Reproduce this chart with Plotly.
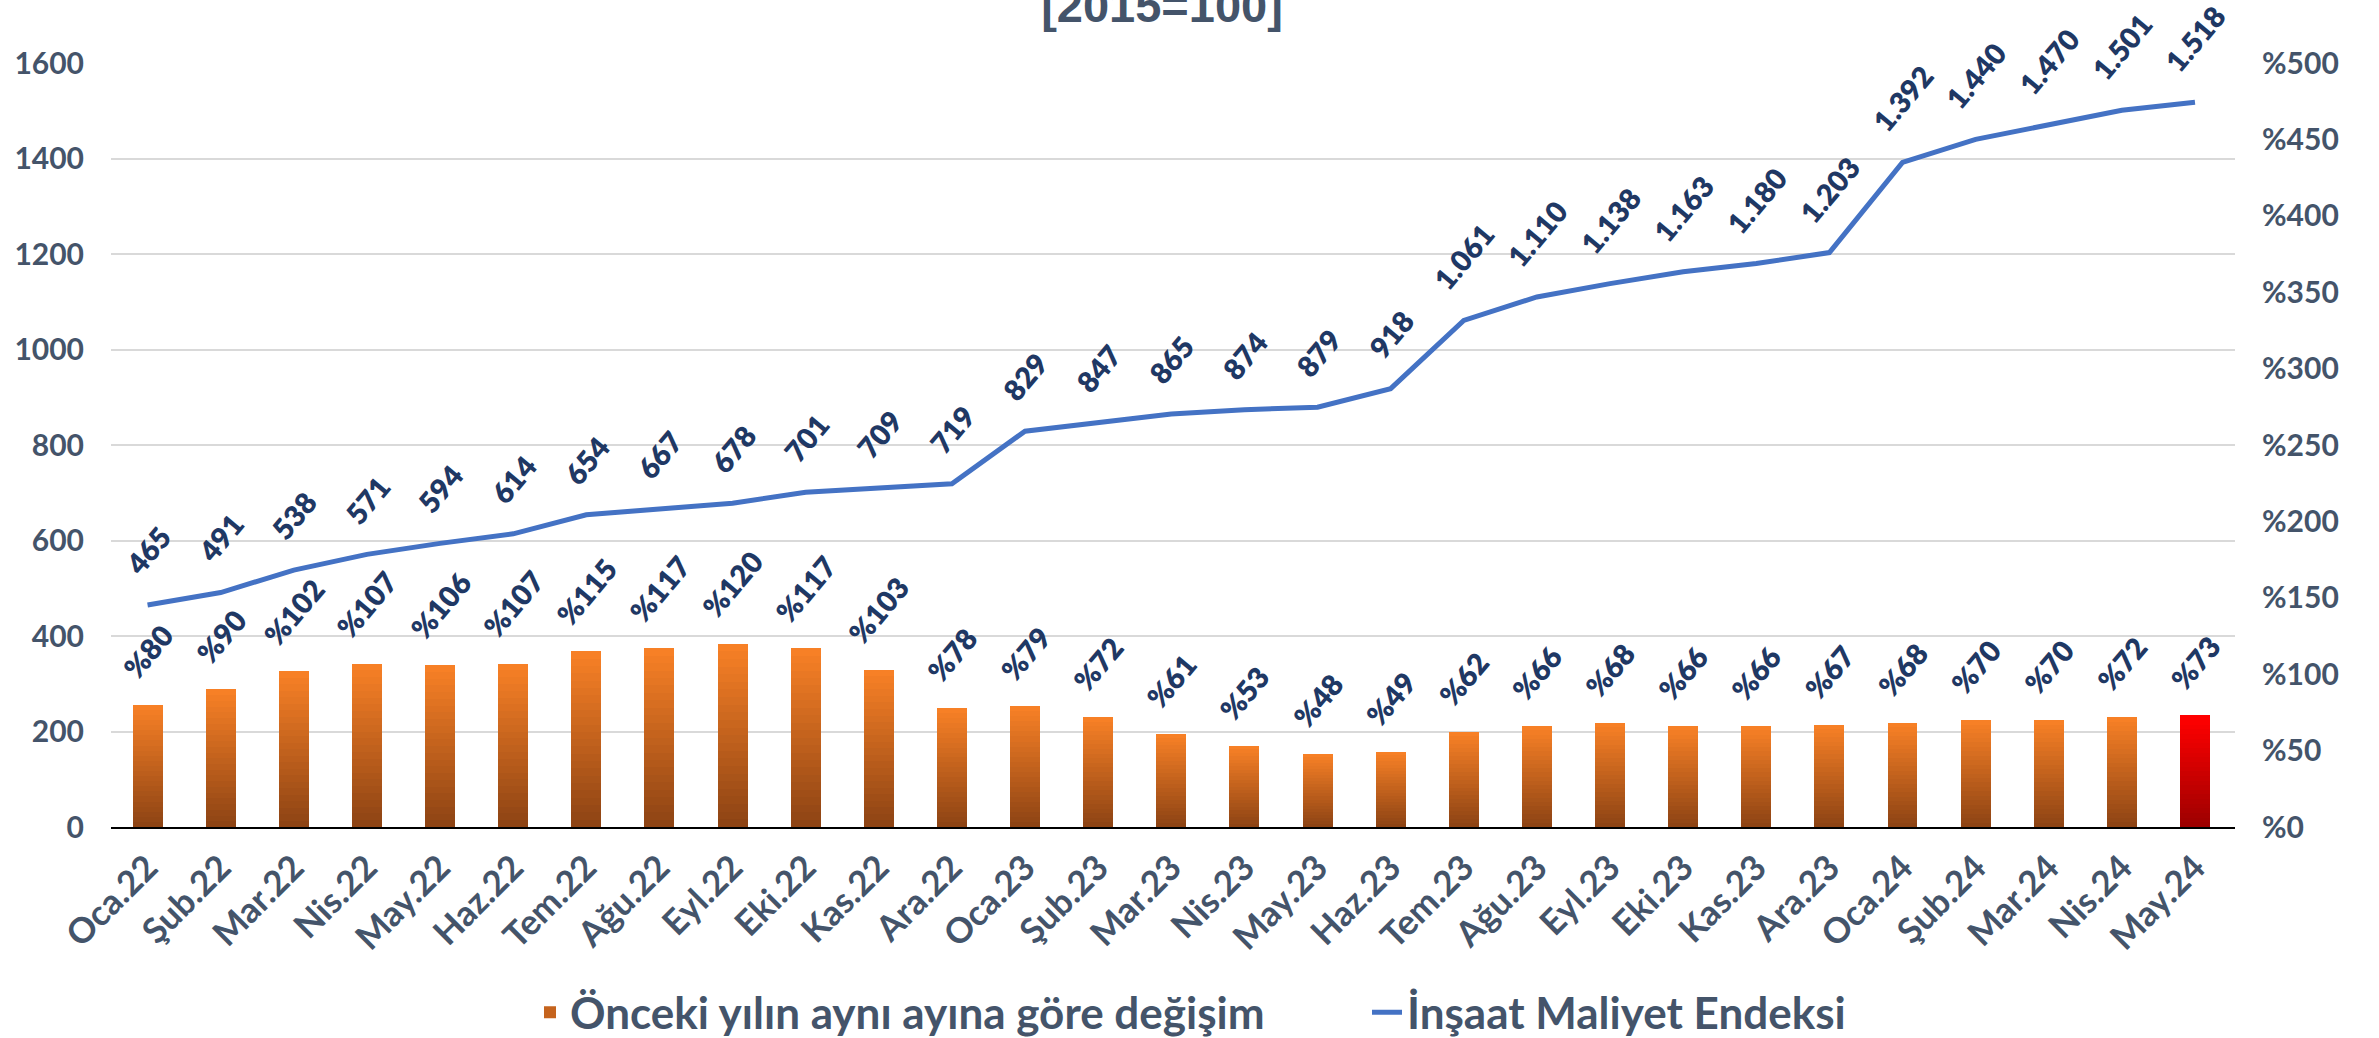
import plotly.graph_objects as go

# ---- data ----
categories = ["Oca.22", "Şub.22", "Mar.22", "Nis.22", "May.22", "Haz.22", "Tem.22", "Ağu.22",
              "Eyl.22", "Eki.22", "Kas.22", "Ara.22", "Oca.23", "Şub.23", "Mar.23", "Nis.23",
              "May.23", "Haz.23", "Tem.23", "Ağu.23", "Eyl.23", "Eki.23", "Kas.23", "Ara.23",
              "Oca.24", "Şub.24", "Mar.24", "Nis.24", "May.24"]
index_values = [465, 491, 538, 571, 594, 614, 654, 667, 678, 701, 709, 719, 829, 847, 865, 874,
                879, 918, 1061, 1110, 1138, 1163, 1180, 1203, 1392, 1440, 1470, 1501, 1518]
change_pct = [80, 90, 102, 107, 106, 107, 115, 117, 120, 117, 103, 78, 79, 72, 61, 53,
              48, 49, 62, 66, 68, 66, 66, 67, 68, 70, 70, 72, 73]
left_ticks = [0, 200, 400, 600, 800, 1000, 1200, 1400, 1600]
right_ticks = [0, 50, 100, 150, 200, 250, 300, 350, 400, 450, 500]
right_tick_text = ["%" + str(v) for v in right_ticks]
bar_name = "Önceki yılın aynı ayına göre değişim"
line_name = "İnşaat Maliyet Endeksi"
title_text = "[2015=100]"

# ---- styling ----
FONT = "Lato"
AXIS_COLOR = "#44546A"
LABEL_COLOR = "#1F3864"
N_SEG = 24
top_o, bot_o = (247, 128, 38), (142, 68, 20)
top_r, bot_r = (255, 0, 0), (158, 0, 0)


def mix(a, b, t):
    return "rgb(%d,%d,%d)" % tuple(round(a[i] + (b[i] - a[i]) * t) for i in range(3))


fig = go.Figure()
last = len(categories) - 1
for k in range(N_SEG):
    t = k / (N_SEG - 1)
    c_o = mix(bot_o, top_o, t)
    c_r = mix(bot_r, top_r, t)
    colors = [c_r if i == last else c_o for i in range(len(categories))]
    fig.add_trace(go.Bar(
        x=categories, y=[v / N_SEG for v in change_pct], yaxis="y2",
        marker=dict(color=colors, line=dict(width=0)),
        name=bar_name, legendgroup="bar", showlegend=(k == N_SEG // 2),
        hoverinfo="skip",
    ))

fig.add_trace(go.Scatter(
    x=categories, y=index_values, yaxis="y", mode="lines",
    line=dict(color="#4472C4", width=5), name=line_name,
))


def tr_num(v):
    return f"{v:,}".replace(",", ".")


label_font = dict(family=FONT, size=29, color=LABEL_COLOR, weight=800)
annotations = []
for c, v in zip(categories, index_values):
    annotations.append(dict(x=c, y=v, xref="x", yref="y", text=tr_num(v), showarrow=False,
                            textangle=-50, xanchor="center", yanchor="bottom", yshift=21,
                            font=label_font))
for c, v in zip(categories, change_pct):
    annotations.append(dict(x=c, y=v, xref="x", yref="y2", text=f"%{v}", showarrow=False,
                            textangle=-50, xanchor="center", yanchor="bottom", yshift=17,
                            font=label_font))

tickfont = dict(family=FONT, size=30, color=AXIS_COLOR, weight="bold")
xtickfont = dict(family=FONT, size=35, color=AXIS_COLOR, weight="bold")

fig.update_layout(
    width=2379, height=1038,
    margin=dict(l=111, r=144, t=63, b=211, autoexpand=False),
    plot_bgcolor="white", paper_bgcolor="white",
    barmode="stack", bargap=0.59,
    title=dict(text=title_text, x=1162 / 2379, xref="container", xanchor="center",
               y=1 - 6 / 1038, yref="container", yanchor="middle",
               font=dict(family="Liberation Sans, Arial", size=47, color=AXIS_COLOR, weight="bold")),
    xaxis=dict(type="category", tickangle=-45, tickfont=xtickfont, showline=True,
               linecolor="black", linewidth=2, showgrid=False, ticks="", ticklabelstandoff=4),
    yaxis=dict(range=[0, 1600], tickvals=left_ticks, showgrid=True, gridcolor="#D9D9D9",
               gridwidth=2, zeroline=False, tickfont=tickfont, ticklabelstandoff=26),
    yaxis2=dict(range=[0, 500], tickvals=right_ticks, ticktext=right_tick_text, overlaying="y",
                side="right", showgrid=False, zeroline=False, tickfont=tickfont,
                ticklabelstandoff=26),
    legend=dict(orientation="h", x=(530 - 111) / 2124, xanchor="left", y=-0.243, yanchor="middle",
                entrywidth=792, entrywidthmode="pixels",
                font=dict(family=FONT, size=44, color=AXIS_COLOR, weight="bold")),
    annotations=annotations,
    showlegend=True,
)

fig.write_html("out.html", config={"displayModeBar": False},
               post_script="document.body.style.margin='0';")
